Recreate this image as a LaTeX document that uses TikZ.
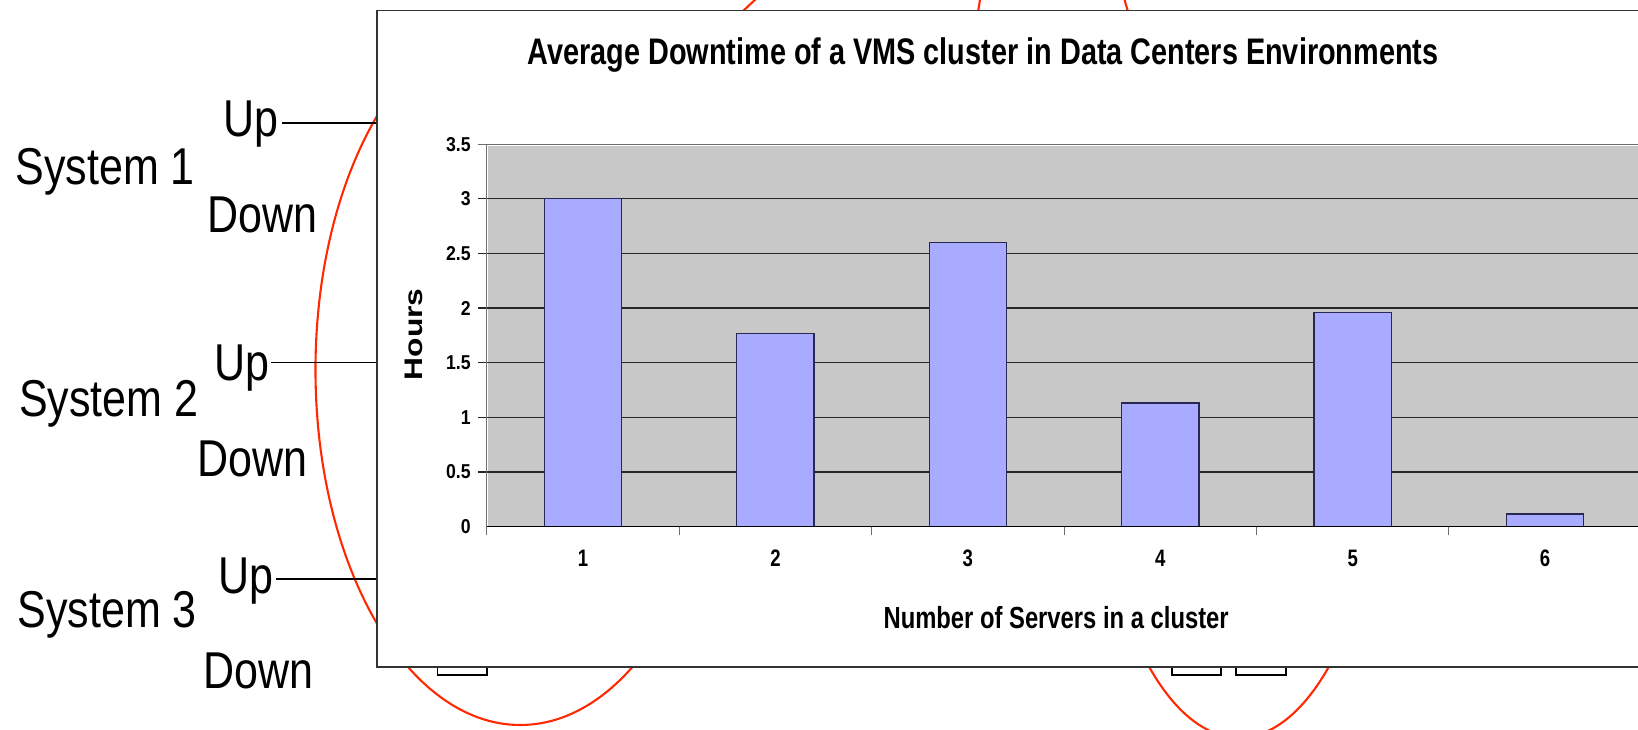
\documentclass[tikz,border=0pt]{standalone}
\usepackage{fontspec}
\usepackage{graphicx}
\setmainfont{Liberation Sans}
\newfontfamily\labelfont[FakeStretch=0.83]{Liberation Sans}
\newfontfamily\chartfont[FakeStretch=0.78]{Liberation Sans}
\newfontfamily\ytickfont[FakeStretch=0.88]{Liberation Sans}
\definecolor{plotgray}{RGB}{200,200,200}
\definecolor{barblue}{RGB}{168,171,255}
\definecolor{baredge}{RGB}{40,40,80}
\definecolor{ovalred}{RGB}{255,40,0}
\definecolor{framegray}{RGB}{51,51,51}
\definecolor{axisgray}{RGB}{110,110,110}
\tikzset{
  oval/.style={draw=ovalred, line width=1pt},
  wave/.style={draw=black, line width=0.75pt},
  frm/.style={draw=framegray, line width=0.9pt, fill=white},
  gridln/.style={draw=black!85, line width=0.65pt},
  axisln/.style={draw=black, line width=0.7pt},
  tickln/.style={draw=axisgray, line width=0.5pt},
  barbox/.style={fill=barblue, draw=baredge, line width=0.6pt},
  lbl/.style={inner sep=0pt, anchor=base west, font=\labelfont\fontsize{24.8pt}{30pt}\selectfont},
  ttl/.style={inner sep=0pt, anchor=base, font=\chartfont\bfseries\fontsize{17.7pt}{21pt}\selectfont},
  axttl/.style={inner sep=0pt, anchor=base, font=\chartfont\bfseries\fontsize{14.6pt}{18pt}\selectfont},
  xtk/.style={inner sep=0pt, font=\chartfont\bfseries\fontsize{11.4pt}{14pt}\selectfont},
  ytk/.style={inner sep=0pt, anchor=east, font=\ytickfont\bfseries\fontsize{9.6pt}{12pt}\selectfont},
}
\begin{document}
\begin{tikzpicture}[x=0.5pt, y=-0.5pt]
\useasboundingbox (0,0) rectangle (1568,698);
\clip (0,0) rectangle (1568,698);
\fill[white] (0,0) rectangle (1568,698);

% red ovals (mostly hidden behind the chart)
\draw[oval] (498,354) ellipse (98pt and 170pt);
\draw[oval] (1186,364) ellipse (72pt and 171pt);
\draw[oval, rotate around={50:(752,128)}] (752,128) ellipse (130pt and 55pt);
\draw[oval] (1493,-100) ellipse (215pt and 200pt);

% left labels
\node[lbl] (sys1) at (14.4,177) {System 1};
\node[lbl] (up1) at (213.6,130.8) {Up};
\node[lbl] (down1) at (198,223) {Down};
\node[lbl] (sys2) at (17.8,398.9) {System 2};
\node[lbl] (up2) at (204.5,363.8) {Up};
\node[lbl] (down2) at (189,456.3) {Down};
\node[lbl] (sys3) at (16.4,600.5) {System 3};
\node[lbl] (up3) at (209,568) {Up};
\node[lbl] (down3) at (194,659) {Down};

% timelines
\coordinate (t1a) at (270,118);
\coordinate (t1b) at (361,118);
\coordinate (t2a) at (259.7,347.2);
\coordinate (t2b) at (361,347.2);
\coordinate (t3a) at (264.3,554);
\draw[wave] (t1a) -- (t1b);
\draw[wave] (t2a) -- (t2b);
\draw[wave] (t3a) -- (419,554) -- (419,646) -- (466,646) -- (466,554)
  -- (1122,554) -- (1122,646) -- (1169,646) -- (1169,554)
  -- (1183,554) -- (1183,646) -- (1231,646) -- (1231,554) -- (1600,554);

% chart frame
\draw[frm] (360.5,10) rectangle (1600,638.5);

% plot area
\fill[plotgray] (467.5,139.5) rectangle (1600,504);
\draw[draw=axisgray, line width=0.6pt] (458,138) -- (1600,138);
\foreach \v in {0.5,1,1.5,2,2.5,3}
  \draw[gridln] (458,{504-104.57*\v}) -- (1600,{504-104.57*\v});
\draw[draw=axisgray, line width=0.6pt] (466,138) -- (466,512);

% bars
\foreach \i/\h in {0/3.0,1/1.77,2/2.60,3/1.13,4/1.96,5/0.115}
  \draw[barbox] ({558.1+184.2*\i-37},{504-104.57*\h}) rectangle ({558.1+184.2*\i+37},504);

% x axis
\draw[axisln] (466,504) -- (1600,504);
\foreach \i in {1,...,6}
  \draw[tickln] ({466+184.2*\i},504) -- ({466+184.2*\i},512);

% y tick labels
\foreach \v/\t [count=\k] in {0/0,0.5/0.5,1/1,1.5/1.5,2/2,2.5/2.5,3/3,3.5/3.5}
  \node[ytk] (yl\k) at (451,{504-104.57*\v}) {\t};

% x tick labels
\foreach \i in {1,...,6}
  \node[xtk] (xl\i) at ({558.1+184.2*(\i-1)},534.5) {\i};

% titles
\node[ttl] (title) at (941,62) {Average Downtime of a VMS cluster in Data Centers Environments};
\node[axttl] (xtitle) at (1011,601.5) {Number of Servers in a cluster};
\node[inner sep=0pt, rotate=90, font=\bfseries\fontsize{15.2pt}{18pt}\selectfont] (ytitle) at (396.5,320) {\scalebox{1}[0.8]{Hours}};
\end{tikzpicture}
\end{document}
